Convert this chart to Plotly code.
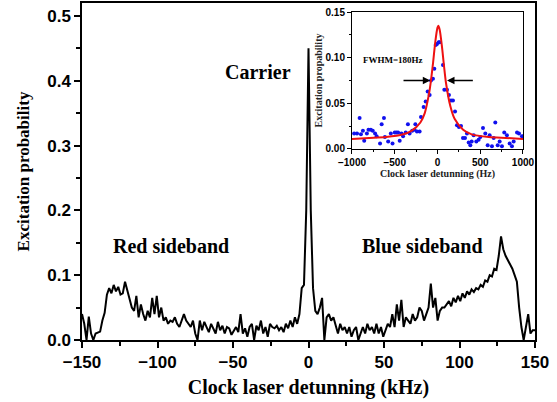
import plotly.graph_objects as go

# ---------------- main spectrum (kHz, excitation probability) ----------------
detuning_khz = [round(-150 + 1.5 * i, 1) for i in range(201)]
excitation = [
    0.040, 0.025, 0.000, 0.036, 0.010, 0.000, 0.010, 0.012, 0.013, 0.030,
    0.042, 0.070, 0.080, 0.072, 0.085, 0.075, 0.082, 0.070, 0.072, 0.090,
    0.075, 0.060, 0.050, 0.045, 0.068, 0.035, 0.055, 0.040, 0.030, 0.045,
    0.035, 0.065, 0.040, 0.068, 0.035, 0.050, 0.030, 0.035, 0.025, 0.030,
    0.028, 0.035, 0.025, 0.020, 0.030, 0.040, 0.030, 0.025, 0.020, 0.030,
    0.010, 0.000, 0.030, 0.015, 0.028, 0.020, 0.012, 0.025, 0.018, 0.010,
    0.028, 0.015, 0.022, 0.010, 0.020, 0.018, 0.008, 0.015, 0.020, 0.012,
    0.040, 0.010, 0.018, 0.005, 0.020, 0.025, 0.000, 0.022, 0.015, 0.030,
    0.010, 0.020, 0.005, 0.025, 0.020, 0.018, 0.022, 0.015, 0.020, 0.012,
    0.025, 0.018, 0.030, 0.020, 0.035, 0.025, 0.040, 0.080, 0.085, 0.200,
    0.450, 0.200, 0.080, 0.045, 0.040, 0.050, 0.065, 0.000, 0.035, 0.040,
    0.030, 0.035, 0.020, 0.010, 0.025, 0.015, 0.020, 0.010, 0.020, 0.005,
    0.015, 0.020, 0.000, 0.012, 0.020, 0.010, 0.025, 0.015, 0.020, 0.010,
    0.025, 0.010, 0.020, 0.005, 0.015, 0.025, 0.020, 0.040, 0.020, 0.055,
    0.030, 0.062, 0.020, 0.035, 0.030, 0.025, 0.040, 0.030, 0.035, 0.050,
    0.045, 0.030, 0.040, 0.050, 0.087, 0.050, 0.065, 0.030, 0.045, 0.050,
    0.050, 0.055, 0.060, 0.052, 0.065, 0.058, 0.068, 0.060, 0.072, 0.065,
    0.075, 0.070, 0.078, 0.074, 0.080, 0.078, 0.085, 0.082, 0.092, 0.090,
    0.100, 0.098, 0.110, 0.108, 0.130, 0.160, 0.140, 0.130, 0.123, 0.118,
    0.110, 0.100, 0.090, 0.050, 0.020, 0.000, 0.020, 0.040, 0.010, 0.015,
    0.015,
]

# ---------------- inset: carrier scan (Hz) ----------------
inset_x = [
    -975, -941, -911, -895, -872, -857, -826, -807, -780, -757, -730, -711,
    -672, -653, -626, -615, -577, -546, -526, -500, -480, -461, -442, -422,
    -403, -372, -346, -326, -296, -269, -259, -240, -209, -193, -162, -138,
    -115, -92, -76, -53, -37, -21, -6, 14, 25, 64, 80, 111, 134, 158, 181,
    205, 228, 251, 275, 298, 322, 345, 365, 384, 400, 423, 454, 481, 501,
    532, 559, 587, 610, 637, 657, 676, 704, 727, 754, 781, 812, 844, 871,
    891, 930, 953, 988,
]
inset_y = [
    0.017, 0.017, 0.034, 0.016, 0.020, 0.009, 0.017, 0.021, 0.021, 0.020,
    0.017, 0.014, 0.006, 0.027, 0.034, 0.013, 0.008, 0.017, 0.006, 0.018,
    0.018, 0.018, 0.009, 0.017, 0.014, 0.018, 0.027, 0.017, 0.020, 0.021,
    0.027, 0.019, 0.019, 0.035, 0.046, 0.052, 0.063, 0.059, 0.075, 0.077,
    0.088, 0.114, 0.115, 0.117, 0.117, 0.092, 0.065, 0.065, 0.059, 0.053,
    0.053, 0.041, 0.026, 0.024, 0.025, 0.012, 0.012, 0.017, 0.007, 0.004,
    0.008, 0.015, 0.008, 0.010, 0.013, 0.023, 0.017, 0.004, 0.015, 0.003,
    0.012, 0.029, 0.004, 0.008, 0.003, 0.018, 0.015, 0.006, 0.003, 0.008,
    0.018, 0.017, 0.014,
]
fit_x = [-1000, -800, -600, -400, -300, -200, -150, -100, -75, -50, -25, 0,
         10, 25, 50, 75, 100, 150, 200, 300, 400, 600, 800, 1000]
fit_y = [0.011, 0.012, 0.013, 0.016, 0.020, 0.029, 0.039, 0.060, 0.076, 0.096,
         0.118, 0.133, 0.135, 0.131, 0.114, 0.092, 0.072, 0.047, 0.033, 0.021,
         0.016, 0.013, 0.012, 0.011]

x_ticks = [-150, -100, -50, 0, 50, 100, 150]
y_ticks = [0.0, 0.1, 0.2, 0.3, 0.4, 0.5]
inset_x_ticks = [-1000, -500, 0, 500, 1000]
inset_y_ticks = [0.0, 0.05, 0.10, 0.15]

SANS = "Liberation Sans"
SERIF = "Liberation Serif"

fig = go.Figure()
fig.add_trace(go.Scatter(x=detuning_khz, y=excitation, mode="lines",
                         line=dict(color="black", width=2), showlegend=False,
                         xaxis="x", yaxis="y"))
fig.add_trace(go.Scatter(x=inset_x, y=inset_y, mode="markers",
                         marker=dict(color="#1010ee", size=4), showlegend=False,
                         xaxis="x2", yaxis="y2"))
fig.add_trace(go.Scatter(x=fit_x, y=fit_y, mode="lines",
                         line=dict(color="#ee1111", width=2, shape="spline", smoothing=0.8),
                         showlegend=False, xaxis="x2", yaxis="y2"))

axis_common = dict(showgrid=False, zeroline=False, showline=True, linecolor="black",
                   mirror=True, ticks="outside", tickcolor="black", automargin=False)

fig.update_layout(
    width=557, height=402,
    margin=dict(l=82, r=22, t=3, b=62),
    paper_bgcolor="white", plot_bgcolor="white",
    xaxis=dict(**axis_common, range=[-150, 150], tickvals=x_ticks, linewidth=1.5,
               ticklen=6, tickwidth=1.5,
               minor=dict(dtick=25, tick0=-150, ticklen=4, ticks="outside", tickcolor="black"),
               tickfont=dict(family=SANS, size=17, color="black", weight="bold"),
               title=dict(text="Clock laser detunning (kHz)", standoff=9,
                          font=dict(family=SERIF, size=20, color="black", weight="bold"))),
    yaxis=dict(**axis_common, range=[0, 0.52], tickvals=y_ticks, tickformat=".1f",
               linewidth=1.5, ticklen=6, tickwidth=1.5,
               minor=dict(dtick=0.05, tick0=0, ticklen=4, ticks="outside", tickcolor="black"),
               tickfont=dict(family=SANS, size=17, color="black", weight="bold"),
               title=dict(text="Excitation probability", standoff=13,
                          font=dict(family=SERIF, size=17, color="black", weight="bold"))),
    xaxis2=dict(**axis_common, domain=[0.596, 0.9735], anchor="y2", range=[-1000, 1000],
                tickvals=inset_x_ticks, linewidth=1, ticklen=4,
                minor=dict(dtick=250, tick0=-1000, ticklen=2, ticks="outside", tickcolor="black"),
                tickfont=dict(family=SANS, size=10, color="black", weight="bold"),
                title=dict(text="Clock laser detunning (Hz)", standoff=0,
                           font=dict(family=SERIF, size=10, color="#222", weight="bold"))),
    yaxis2=dict(**axis_common, domain=[0.567, 0.973], anchor="x2", range=[0, 0.15],
                tickvals=inset_y_ticks, tickformat=".2f", linewidth=1, ticklen=4,
                minor=dict(dtick=0.025, tick0=0, ticklen=2, ticks="outside", tickcolor="black"),
                tickfont=dict(family=SANS, size=10, color="black", weight="bold"),
                title=dict(text="Excitation propability", standoff=1,
                           font=dict(family=SERIF, size=10, color="#222", weight="bold"))),
)

ann_font = dict(family=SERIF, size=20, color="black", weight="bold")
fig.add_annotation(x=-33.5, y=0.413, xref="x", yref="y", text="Carrier", showarrow=False, font=ann_font)
fig.add_annotation(x=-91, y=0.145, xref="x", yref="y", text="Red sideband", showarrow=False, font=ann_font)
fig.add_annotation(x=75.3, y=0.145, xref="x", yref="y", text="Blue sideband", showarrow=False, font=ann_font)
fig.add_annotation(x=-890, y=0.098, xref="x2", yref="y2", xanchor="left", text="FWHM=180Hz",
                   showarrow=False, font=dict(family=SERIF, size=9, color="black", weight="bold"))
fig.add_annotation(x=-84, y=0.075, ax=-415, ay=0.075, xref="x2", yref="y2", axref="x2", ayref="y2",
                   text="", showarrow=True, arrowhead=2, arrowsize=1, arrowwidth=1.5, arrowcolor="black")
fig.add_annotation(x=111, y=0.075, ax=431, ay=0.075, xref="x2", yref="y2", axref="x2", ayref="y2",
                   text="", showarrow=True, arrowhead=2, arrowsize=1, arrowwidth=1.5, arrowcolor="black")

fig.write_html("out.html", config={"displayModeBar": False},
               post_script="document.body.style.margin='0';document.body.style.overflow='hidden';")
